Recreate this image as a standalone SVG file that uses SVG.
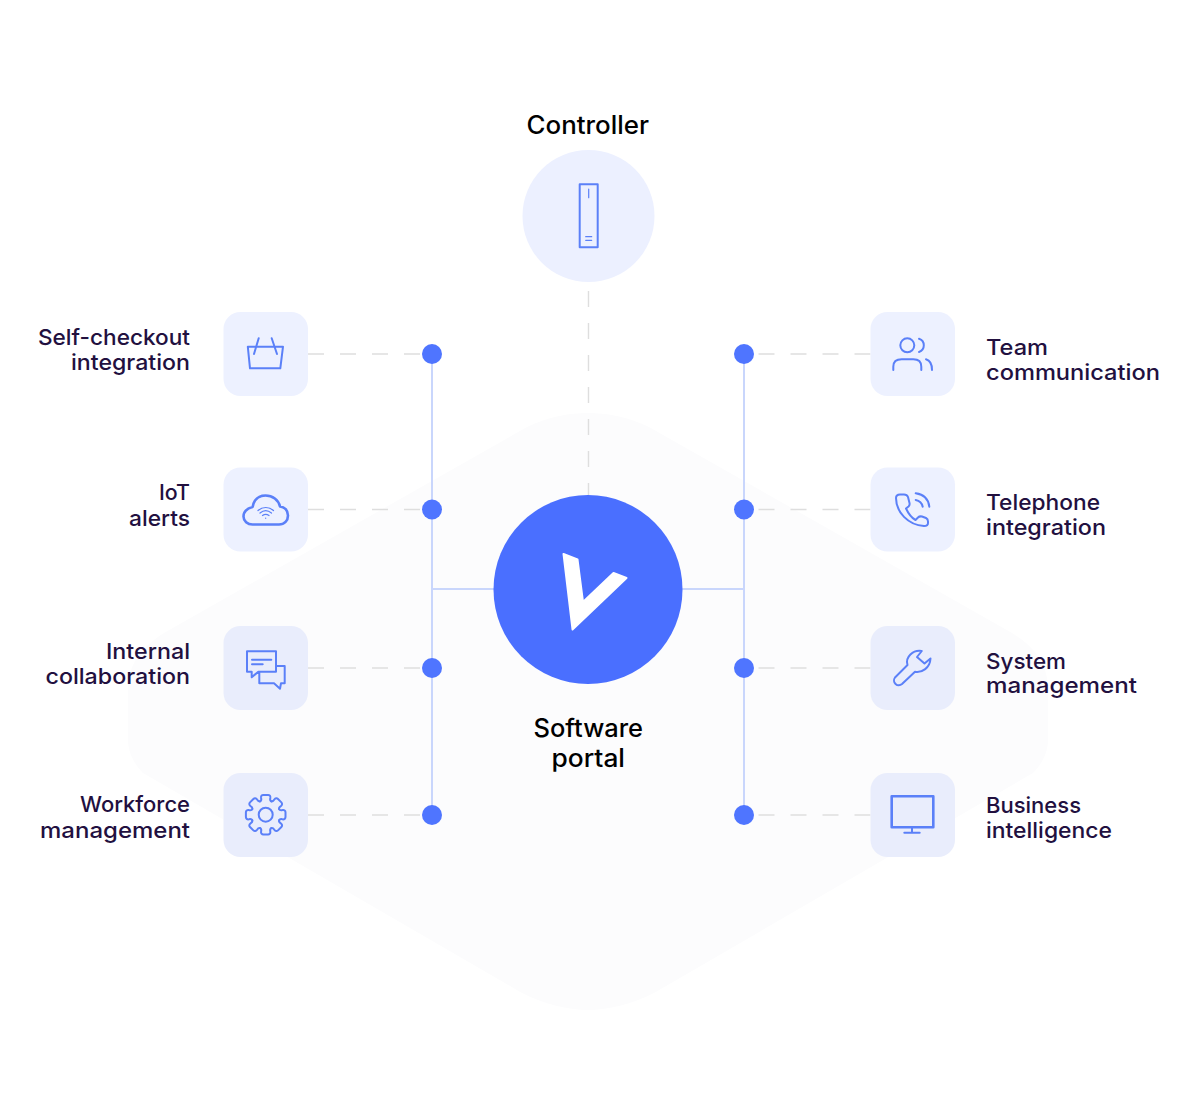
<svg xmlns="http://www.w3.org/2000/svg" xmlns:xlink="http://www.w3.org/1999/xlink" width="1196" height="1120" viewBox="0 0 1196 1120">
<style>
.lab{font-family:"Inter","Liberation Sans",sans-serif;font-weight:500;font-size:22px;fill:#22103f}
.big{font-family:"Inter","Liberation Sans",sans-serif;font-weight:500;font-size:25px;fill:#000}
.box{fill:#edf1ff}
.box2{fill:#e9edfc}
.ic{fill:none;stroke:#5b80f8;stroke-width:2;stroke-linejoin:round;stroke-linecap:round}
.thin{stroke-width:1.200}
.heavy{stroke-width:2.600}
.dash{fill:none;stroke:#dedede;stroke-width:1.400;stroke-dasharray:16 16}
.bus{fill:none;stroke:#c9d6fc;stroke-width:2}
.dot{fill:#4f75ff}
</style>
<defs>
<path id="tooth" d="M-5.600 -13.400C-4.400 -14 -4.200 -15.200 -4.600 -16.800C-5 -18.600 -3.800 -19.800 -2.400 -19.800H2.400C3.800 -19.800 5 -18.600 4.600 -16.800C4.200 -15.200 4.400 -14 5.600 -13.400"/>
</defs>
<rect width="1196" height="1120" fill="#fff"/>
<path id="backdrop" fill="#fcfcfd" d="M527 427C550 416 570 413 588 413C606 413 626 416 649 427L1012 633C1036 648 1048 665 1048 690V740C1048 752 1042 764 1033 773L654 993C630 1005 606 1010 588 1010C570 1010 546 1005 522 993L143 773C134 764 128 752 128 740V690C128 665 140 648 164 633Z"/>
<g id="connectors">
<path class="dash" d="M588.500 291V495"/>
<path class="dash" d="M308 354H422M308 509.500H422M308 668H422M308 815H422"/>
<path class="dash" d="M870.500 354H754M870.500 509.500H754M870.500 668H754M870.500 815H754"/>
<path class="bus" d="M432 354V815M744 354V815M432 589H494M682 589H744"/>
<circle class="dot" cx="432" cy="354" r="10"/><circle class="dot" cx="432" cy="509.500" r="10"/><circle class="dot" cx="432" cy="668" r="10"/><circle class="dot" cx="432" cy="815" r="10"/>
<circle class="dot" cx="744" cy="354" r="10"/><circle class="dot" cx="744" cy="509.500" r="10"/><circle class="dot" cx="744" cy="668" r="10"/><circle class="dot" cx="744" cy="815" r="10"/>
</g>
<g id="controller">
<text class="big" x="526.500" y="133.500" textLength="122.500" lengthAdjust="spacingAndGlyphs">Controller</text>
<circle cx="588.500" cy="216" r="66" fill="#ecf0ff"/>
<g class="ic"><rect x="579.700" y="184.300" width="18" height="63"/><path class="thin" d="M588.700 189V197.700M585.700 236.700H591.700M585.700 240.300H591.700"/></g>
</g>
<g id="software-portal">
<circle cx="588" cy="589.500" r="94.500" fill="#4a6fff"/>
<path fill="#fff" stroke="#fff" stroke-width="2" stroke-linejoin="round" d="M563.500 554L577.500 559.500L583 602L613.500 573L626.500 578L572.500 629.500Z"/>
<text class="big" x="533.500" y="737" textLength="109.500" lengthAdjust="spacingAndGlyphs">Software</text>
<text class="big" x="551.500" y="767" textLength="73.500" lengthAdjust="spacingAndGlyphs">portal</text>
</g>
<g id="self-checkout">
<text class="lab" x="38" y="345" textLength="152" lengthAdjust="spacingAndGlyphs">Self-checkout</text>
<text class="lab" x="71" y="370" textLength="119" lengthAdjust="spacingAndGlyphs">integration</text>
<rect class="box" x="223.500" y="312" width="84.500" height="84" rx="17"/>
<path class="ic" d="M247.800 346.700H283L280.300 368.300H250ZM258.700 338.300L254 354M271.700 338.300L277 354"/>
</g>
<g id="iot-alerts">
<text class="lab" x="159" y="500" textLength="31" lengthAdjust="spacingAndGlyphs">IoT</text>
<text class="lab" x="129" y="526" textLength="61" lengthAdjust="spacingAndGlyphs">alerts</text>
<rect class="box" x="223.500" y="467.500" width="84.500" height="84" rx="17"/>
<path class="ic heavy" d="M252.500 524.500H279C284.500 524.500 288 520.500 288 515.500C288 510.500 284.500 506.800 280 506.500C278.500 500 272.500 495.500 265.500 495.500C260 495.500 255.500 498.500 253.500 503.500C253.200 505 253 506 252.500 507C247 508.500 243.500 512 243.500 516.500C243.500 521 247.500 524.500 252.500 524.500Z"/>
<path class="ic thin" d="M258 510.500C262.500 506.500 269 506.500 273.500 510.500M260 513C263.500 510 268 510 271.500 513M262.500 515.500C264.500 514 267 514 269 515.500M265.700 518V518.300"/>
</g>
<g id="internal-collaboration">
<text class="lab" x="106" y="659" textLength="84" lengthAdjust="spacingAndGlyphs">Internal</text>
<text class="lab" x="45.500" y="684" textLength="144.500" lengthAdjust="spacingAndGlyphs">collaboration</text>
<rect class="box2" x="223.500" y="626" width="84.500" height="84" rx="17"/>
<path class="ic" d="M247 651.300H276V671.700H258.300L251.700 677.300V671.700H247ZM252 659.700H271.300M252 664.300H262.700M276 666H284.700V683.300H281L280 688.700L274 683.300H259.300V671.700"/>
</g>
<g id="workforce-management">
<text class="lab" x="80" y="812" textLength="110" lengthAdjust="spacingAndGlyphs">Workforce</text>
<text class="lab" x="40" y="838" textLength="150" lengthAdjust="spacingAndGlyphs">management</text>
<rect class="box2" x="223.500" y="773" width="84.500" height="84" rx="17"/>
<g class="ic" transform="translate(265.700 814.700)">
<use xlink:href="#tooth"/><use xlink:href="#tooth" transform="rotate(45)"/><use xlink:href="#tooth" transform="rotate(90)"/><use xlink:href="#tooth" transform="rotate(135)"/><use xlink:href="#tooth" transform="rotate(180)"/><use xlink:href="#tooth" transform="rotate(225)"/><use xlink:href="#tooth" transform="rotate(270)"/><use xlink:href="#tooth" transform="rotate(315)"/>
<circle r="7"/>
</g>
</g>
<g id="team-communication">
<text class="lab" x="986" y="355" textLength="62" lengthAdjust="spacingAndGlyphs">Team</text>
<text class="lab" x="986" y="380" textLength="174" lengthAdjust="spacingAndGlyphs">communication</text>
<rect class="box" x="870.500" y="312" width="84.500" height="84" rx="17"/>
<path class="ic" d="M914.300 345.300A7 7 0 1 1 900.300 345.300A7 7 0 1 1 914.300 345.300ZM919 338.700A7 7 0 0 1 919 352M893.300 370V366.700Q893.300 359.300 901.700 359.300H913.300Q921.300 359.300 921.300 366.700V370M926 359.300Q932 361 932 370"/>
</g>
<g id="telephone-integration">
<text class="lab" x="986" y="510" textLength="114" lengthAdjust="spacingAndGlyphs">Telephone</text>
<text class="lab" x="986" y="535" textLength="120" lengthAdjust="spacingAndGlyphs">integration</text>
<rect class="box" x="870.500" y="467.500" width="84.500" height="84" rx="17"/>
<path class="ic" d="M900 494.500H904Q907 494.500 908 497L909.500 503Q910 505 908.500 506.500L906 508.500Q910 517 915.500 520L918 517.500Q919.500 516 922 516.500L926 518Q928 519 928 521.500V523Q928 526 924 526C908 525 896 512 896 498Q896 494.500 900 494.500ZM915.700 493.300Q928 495 929.300 506.700M915.700 500Q921.500 501 922.700 506.700"/>
</g>
<g id="system-management">
<text class="lab" x="986" y="669" textLength="80" lengthAdjust="spacingAndGlyphs">System</text>
<text class="lab" x="986" y="693" textLength="151" lengthAdjust="spacingAndGlyphs">management</text>
<rect class="box2" x="870.500" y="626" width="84.500" height="84" rx="17"/>
<path class="ic" d="M907.500 665L895 677.500A4.800 4.800 0 0 0 902 684L915 671.800C922 673 930 668 930.500 658.500L924.500 663.500L917 657L921.800 651C913 649.500 905 657 907.500 665Z"/>
</g>
<g id="business-intelligence">
<text class="lab" x="986" y="813" textLength="95" lengthAdjust="spacingAndGlyphs">Business</text>
<text class="lab" x="986" y="838" textLength="126" lengthAdjust="spacingAndGlyphs">intelligence</text>
<rect class="box2" x="870.500" y="773" width="84.500" height="84" rx="17"/>
<path class="ic heavy" d="M891.700 796.300H933.300V827.300H891.700Z"/>
<path class="ic" d="M912 827.300V832.700M904.300 832.700H919.700"/>
</g>
</svg>
